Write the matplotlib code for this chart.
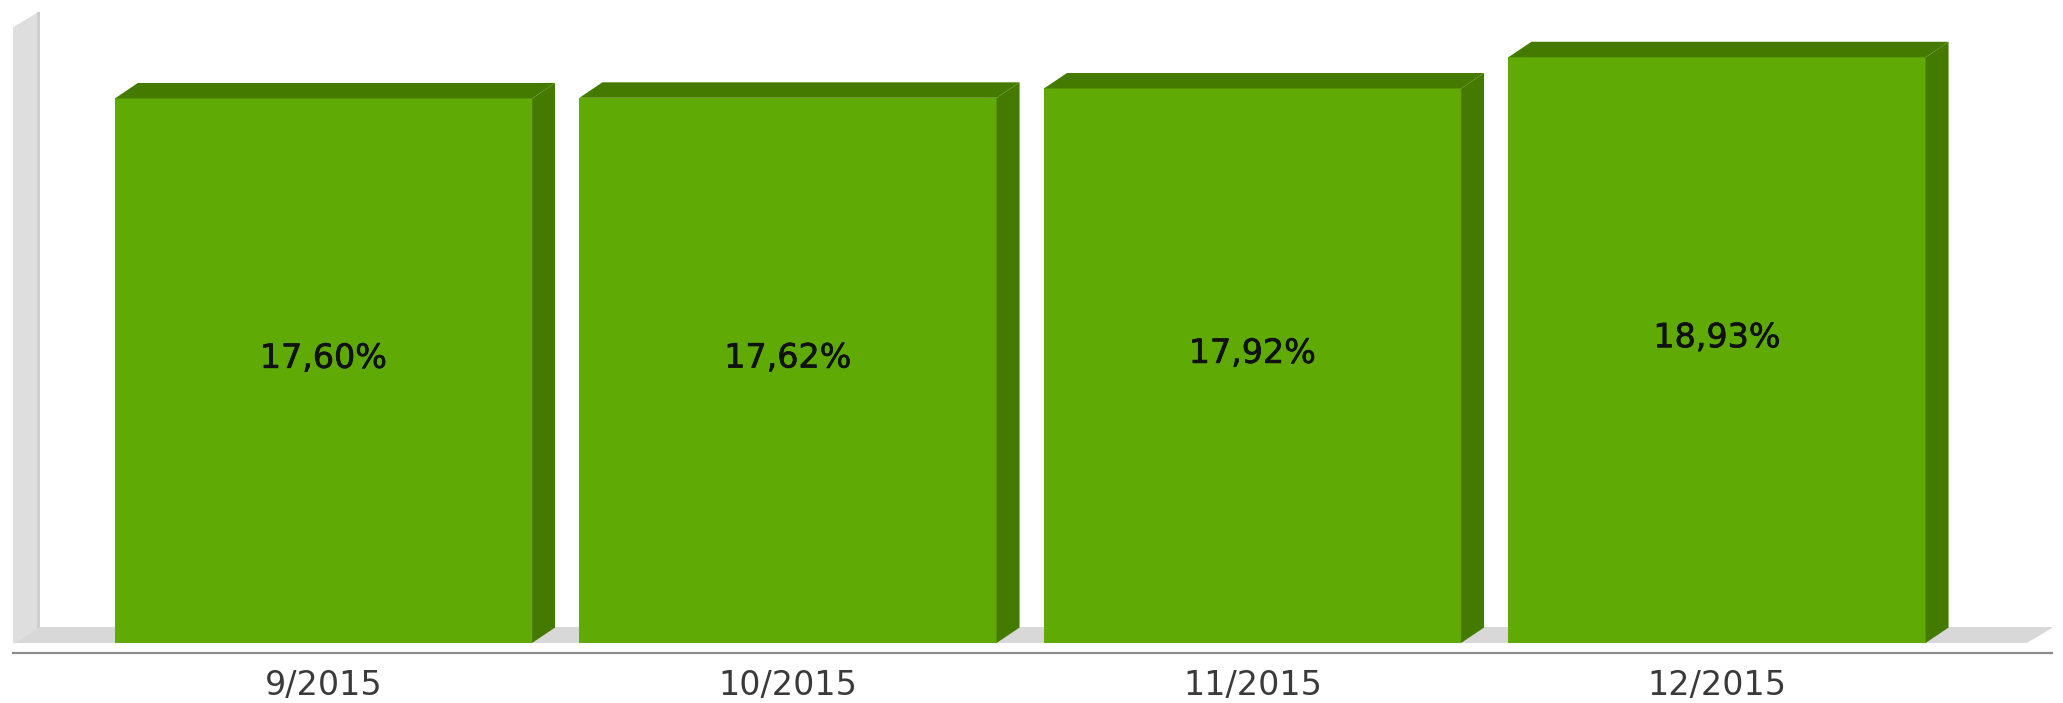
import matplotlib
matplotlib.use("Agg")
import matplotlib.pyplot as plt
from matplotlib.patches import Polygon
import matplotlib.patheffects as pe

categories = ["9/2015", "10/2015", "11/2015", "12/2015"]
values = [17.60, 17.62, 17.92, 18.93]
value_labels = ["17,60%", "17,62%", "17,92%", "18,93%"]

FRONT = "#5faa05"
DARK = "#457a00"
WALL = "#dedede"
FLOOR = "#d8d8d8"

fig = plt.figure(figsize=(20.63, 7.03), dpi=100)
ax = fig.add_axes([13 / 2063, 50 / 703, 2039 / 2063, 653 / 703])
ax.set_xlim(-0.6685, 3.7212)
ax.set_ylim(-0.323, 20.78)

width = 0.898
dx, dy = 0.0495, 0.50
fdx, fdy = 0.058, 0.517
xs = list(range(len(values)))

# wall (left) and floor
x0 = -0.6685
wall_top = 19.9
ax.add_patch(Polygon([(x0, 0), (x0, wall_top), (x0 + fdx, wall_top + fdy), (x0 + fdx, fdy)],
                     closed=True, facecolor=WALL, edgecolor="none", zorder=1))
ax.plot([x0 + fdx - 0.004, x0 + fdx - 0.004], [fdy, wall_top + fdy - 0.05], color="#cccccc", lw=2, zorder=1.1)
x1 = 3.667
ax.add_patch(Polygon([(x0, 0), (x0 + fdx, fdy), (x1 + fdx, fdy), (x1, 0)],
                     closed=True, facecolor=FLOOR, edgecolor="none", zorder=1.2))

bars = ax.bar(xs, values, width=width, color=FRONT, edgecolor="none", zorder=3)
for x, v in zip(xs, values):
    l, r = x - width / 2, x + width / 2
    ax.add_patch(Polygon([(l, v), (l + dx, v + dy), (r + dx, v + dy), (r, v)],
                         closed=True, facecolor=DARK, edgecolor="none", zorder=3))
    ax.add_patch(Polygon([(r, 0), (r, v), (r + dx, v + dy), (r + dx, dy)],
                         closed=True, facecolor=DARK, edgecolor="none", zorder=3))

for x, v, lab in zip(xs, values, value_labels):
    ax.text(x, v / 2 + 0.4, lab, ha="center", va="center", fontsize=24,
            color="#111111", family="DejaVu Sans", zorder=5,
            path_effects=[pe.withStroke(linewidth=0.5, foreground="#111111")])

for s in ["top", "left", "right"]:
    ax.spines[s].set_visible(False)
ax.spines["bottom"].set_color("#8c8c8c")
ax.spines["bottom"].set_linewidth(1.6)
ax.set_yticks([])
ax.set_xticks(xs)
ax.set_xticklabels(categories, fontsize=24, color="#3a3a3a", family="DejaVu Sans")
ax.tick_params(axis="x", length=0, pad=11.5)
ax.patch.set_alpha(0)

fig.savefig("out.png", dpi=100)
